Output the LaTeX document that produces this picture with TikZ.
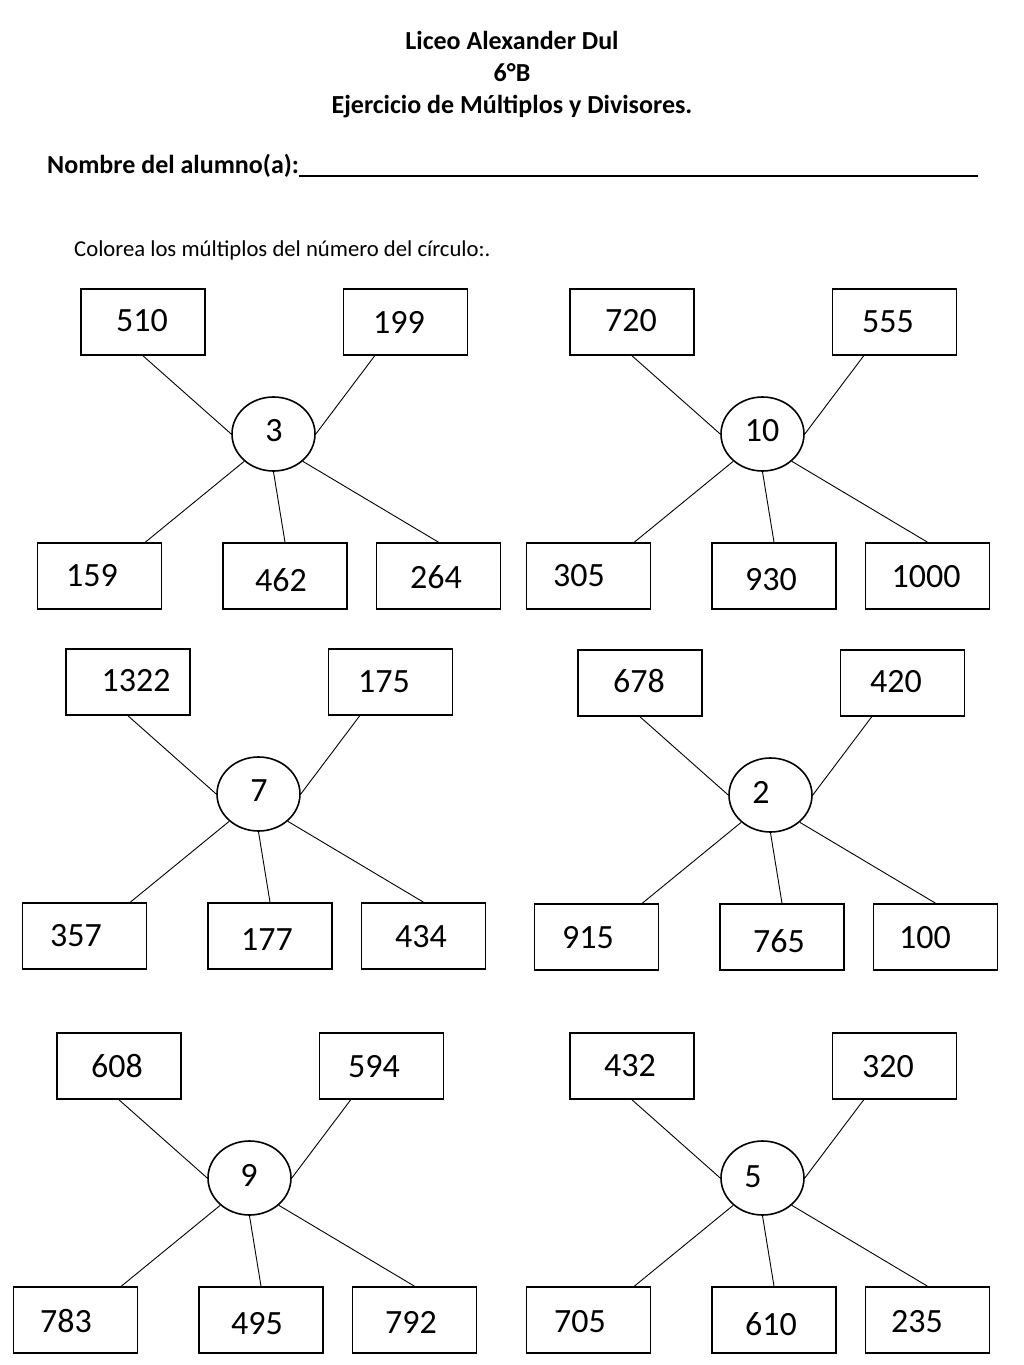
\documentclass[tikz,border=0pt]{standalone}
\usepackage{fontspec}
\setmainfont{Carlito}
\usetikzlibrary{shapes.geometric}
\tikzset{
  box/.style={draw, line width=1.6pt, minimum width=124pt, minimum height=66pt, inner sep=0pt},
  ring/.style={draw, ellipse, line width=1.6pt, minimum width=83pt, minimum height=74pt, inner sep=0pt},
  num/.style={font=\fontsize{34}{40}\selectfont, inner sep=0pt},
  link/.style={line width=0.9pt},
  head/.style={font=\fontsize{26}{30}\selectfont\bfseries, inner sep=0pt, anchor=base},
  plain/.style={font=\fontsize{22.7}{27}\selectfont, inner sep=0pt, anchor=base west},
}
\newcommand\mycluster[3]{%
  \begin{scope}[shift={(#2,#3)}]
    \node[box] (#1a) at (143,322) {};
    \node[box] (#1b) at (405.5,322) {};
    \node[ring] (#1c) at (273.5,434) {};
    \node[box] (#1d) at (99.5,576) {};
    \node[box] (#1e) at (285,576) {};
    \node[box] (#1f) at (438.5,576) {};
  \end{scope}
  \draw[link] (#1a.south) -- (#1c.180);
  \draw[link] ([xshift=32pt]#1b.south west) -- (#1c.0);
  \draw[link] ([xshift=-17pt]#1d.north east) -- (#1c.223);
  \draw[link] (#1e.north) -- (#1c.270);
  \draw[link] (#1f.north) -- (#1c.317);
}
\begin{document}
\begin{tikzpicture}[x=1pt,y=-1pt]
\useasboundingbox[fill=white] (0,0) rectangle (1024,1365);

\node[head] (t1) at (512,49) {Liceo Alexander Dul};
\node[head] (t2) at (512,81) {6°B};
\node[head] (t3) at (512,113) {Ejercicio de Múltiplos y Divisores.};
\node[head, anchor=base west] (t4) at (47,173) {Nombre del alumno(a):};
\draw[line width=2pt] (t4.base east) ++(0,3) coordinate (u0) -- (978,176) coordinate (u1);
\node[plain] (t5) at (74,256) {Colorea los múltiplos del número del círculo:.};

\mycluster{a}{0}{0}
\mycluster{b}{489}{0}
\mycluster{c}{-15}{360}
\mycluster{d}{497}{361}
\mycluster{e}{-24}{744}
\mycluster{f}{489}{744}

% cluster a
\node[num] (na1) at (142,321) {510};
\node[num] (na2) at (399,322) {199};
\node[num] (na3) at (274,431) {3};
\node[num] (na4) at (92,576) {159};
\node[num] (na5) at (281,580) {462};
\node[num] (na6) at (436,577) {264};
% cluster b
\node[num] (nb1) at (631,321) {720};
\node[num] (nb2) at (888,322) {555};
\node[num] (nb3) at (762,431) {10};
\node[num] (nb4) at (579,576) {305};
\node[num] (nb5) at (771,580) {930};
\node[num] (nb6) at (926,577) {1000};
% cluster c
\node[num] (nc1) at (136,681) {1322};
\node[num] (nc2) at (384,682) {175};
\node[num] (nc3) at (259,791) {7};
\node[num] (nc4) at (76,936) {357};
\node[num] (nc5) at (267,940) {177};
\node[num] (nc6) at (421,937) {434};
% cluster d
\node[num] (nd1) at (639,681) {678};
\node[num] (nd2) at (896,682) {420};
\node[num] (nd3) at (761,792) {2};
\node[num] (nd4) at (588,938) {915};
\node[num] (nd5) at (779,941) {765};
\node[num] (nd6) at (925,938) {100};
% cluster e
\node[num] (ne1) at (117,1066) {608};
\node[num] (ne2) at (374,1067) {594};
\node[num] (ne3) at (249,1175) {9};
\node[num] (ne4) at (66,1321) {783};
\node[num] (ne5) at (257,1324) {495};
\node[num] (ne6) at (411,1322) {792};
% cluster f
\node[num] (nf1) at (630,1066) {432};
\node[num] (nf2) at (888,1067) {320};
\node[num] (nf3) at (753,1177) {5};
\node[num] (nf4) at (580,1322) {705};
\node[num] (nf5) at (771,1324) {610};
\node[num] (nf6) at (917,1322) {235};
\end{tikzpicture}
\end{document}
